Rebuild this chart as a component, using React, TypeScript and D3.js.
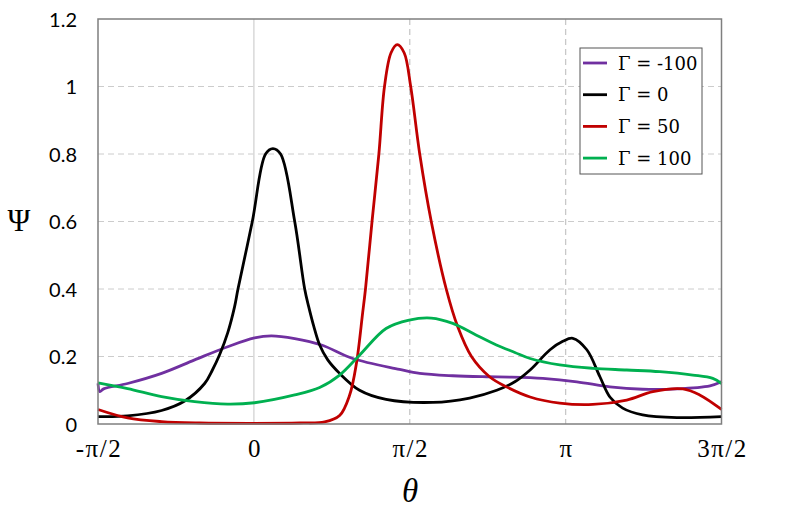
import * as d3 from "d3";

// theta in units of pi, psi values
const thetaNeg100 = [-0.5, -0.494, -0.482, -0.405, -0.296, -0.19, -0.084, 0.002, 0.056, 0.131, 0.217, 0.317, 0.467, 0.532, 0.638, 0.747, 0.821, 0.927, 1.036, 1.142, 1.247, 1.357, 1.463, 1.5];
const psiNeg100 = [0.12, 0.096, 0.104, 0.12, 0.15, 0.19, 0.229, 0.255, 0.261, 0.253, 0.234, 0.194, 0.162, 0.15, 0.143, 0.14, 0.139, 0.135, 0.125, 0.11, 0.103, 0.104, 0.113, 0.125];

const theta0 = [-0.5, -0.405, -0.296, -0.222, -0.158, -0.133, -0.11, -0.084, -0.062, -0.051, -0.005, 0.0375, 0.061, 0.0857, 0.131, 0.163, 0.176, 0.192, 0.211, 0.237, 0.275, 0.339, 0.424, 0.574, 0.692, 0.779, 0.837, 0.886, 0.95, 0.991, 1.023, 1.068, 1.11, 1.142, 1.183, 1.247, 1.357, 1.5];
const psi0 = [0.022, 0.024, 0.04, 0.068, 0.12, 0.16, 0.205, 0.27, 0.347, 0.4, 0.6, 0.8, 0.816, 0.8, 0.6, 0.4, 0.347, 0.29, 0.234, 0.19, 0.15, 0.1, 0.073, 0.064, 0.077, 0.1, 0.125, 0.16, 0.22, 0.245, 0.254, 0.22, 0.14, 0.08, 0.047, 0.027, 0.019, 0.022];

const theta50 = [-0.5, -0.405, -0.296, -0.174, -0.014, 0.147, 0.227, 0.275, 0.307, 0.329, 0.349, 0.358, 0.379, 0.401, 0.419, 0.44, 0.46, 0.482, 0.503, 0.532, 0.569, 0.617, 0.654, 0.698, 0.756, 0.81, 0.886, 0.981, 1.087, 1.196, 1.28, 1.376, 1.43, 1.5];
const psi50 = [0.043, 0.018, 0.007, 0.003, 0.002, 0.003, 0.006, 0.025, 0.085, 0.18, 0.33, 0.4, 0.6, 0.8, 1.0, 1.1, 1.124, 1.1, 1.0, 0.8, 0.6, 0.4, 0.288, 0.2, 0.14, 0.11, 0.08, 0.062, 0.058, 0.071, 0.096, 0.104, 0.086, 0.043];

const theta100 = [-0.5, -0.405, -0.296, -0.19, -0.084, 0.002, 0.131, 0.211, 0.275, 0.339, 0.424, 0.498, 0.569, 0.638, 0.714, 0.778, 0.837, 0.886, 0.981, 1.087, 1.196, 1.302, 1.408, 1.472, 1.5];
const psi100 = [0.122, 0.105, 0.081, 0.066, 0.059, 0.063, 0.086, 0.108, 0.145, 0.204, 0.283, 0.308, 0.314, 0.298, 0.263, 0.234, 0.212, 0.194, 0.175, 0.165, 0.16, 0.155, 0.145, 0.135, 0.12];

const seriesNames = ["Γ = -100", "Γ = 0", "Γ = 50", "Γ = 100"];
const seriesColors = ["#7030A0", "#000000", "#C00000", "#00B050"];
const seriesTheta = [thetaNeg100, theta0, theta50, theta100];
const seriesPsi = [psiNeg100, psi0, psi50, psi100];

const xTicks = [-0.5, 0, 0.5, 1, 1.5];
const xTickLabels = ["-π/2", "0", "π/2", "π", "3π/2"];
const yTicks = [0, 0.2, 0.4, 0.6, 0.8, 1, 1.2];
const yTickLabels = ["0", "0.2", "0.4", "0.6", "0.8", "1", "1.2"];

const W = 789;
const H = 515;
const plot = { left: 98, right: 721.5, top: 19, bottom: 424 };

export default function App() {
  const x = d3.scaleLinear().domain([-0.5, 1.5]).range([plot.left, plot.right]);
  const y = d3.scaleLinear().domain([0, 1.2]).range([plot.bottom, plot.top]);

  const line = d3
    .line<[number, number]>()
    .x((d) => x(d[0]))
    .y((d) => y(d[1]))
    .curve(d3.curveCatmullRom.alpha(0.5));

  const legendX = 580;
  const legendY = 48;

  return (
    <svg width={W} height={H} style={{ position: "absolute", left: 0, top: 0, background: "#fff" }}>
      {/* horizontal grid */}
      {yTicks.slice(1, -1).map((t) => (
        <line key={"h" + t} x1={plot.left} x2={plot.right} y1={y(t)} y2={y(t)}
          stroke="#cccccc" strokeWidth={1} strokeDasharray="6,4" />
      ))}
      {/* vertical grid */}
      {xTicks.slice(1, -1).map((t) => (
        <line key={"v" + t} x1={x(t)} x2={x(t)} y1={plot.top} y2={plot.bottom}
          stroke={t === 0 ? "#d9d9d9" : "#c8c8c8"} strokeWidth={t === 0 ? 1.5 : 1.3}
          strokeDasharray={t === 0 ? undefined : "6,4"} />
      ))}

      {/* curves */}
      {seriesNames.map((name, i) => {
        const pts = seriesTheta[i].map((t, j) => [t, seriesPsi[i][j]] as [number, number]);
        return (
          <path key={name} d={line(pts) || ""} fill="none" stroke={seriesColors[i]}
            strokeWidth={2.8} strokeLinejoin="round" />
        );
      })}

      {/* frame */}
      <rect x={plot.left} y={plot.top} width={plot.right - plot.left} height={plot.bottom - plot.top}
        fill="none" stroke="#7f7f7f" strokeWidth={1.5} />

      {/* y ticks */}
      {yTicks.map((t, i) => (
        <text key={"yt" + t} x={77} y={y(t) + 7.5} textAnchor="end" fontFamily="Lato, 'Noto Sans', sans-serif"
          fontSize={20} fill="#000">{yTickLabels[i]}</text>
      ))}
      {/* x ticks */}
      {xTicks.map((t, i) => (
        <text key={"xt" + t} x={x(t) + 1} y={457} textAnchor="middle" fontFamily="'Liberation Serif', serif"
          fontSize={25} letterSpacing={1.5} fill="#000">{xTickLabels[i]}</text>
      ))}

      {/* axis titles */}
      <text x={19} y={231} textAnchor="middle" fontFamily="'Liberation Serif', serif" fontSize={31} fill="#000">Ψ</text>
      <text x={410} y={502} textAnchor="middle" fontFamily="'Liberation Serif', serif" fontStyle="italic"
        fontSize={33} fill="#000">θ</text>

      {/* legend */}
      <rect x={legendX} y={legendY} width={122} height={126} fill="#fff" stroke="#555" strokeWidth={1} />
      {seriesNames.map((name, i) => {
        const cy = 63 + i * 31.7;
        return (
          <g key={"lg" + name}>
            <line x1={583} x2={607} y1={cy} y2={cy} stroke={seriesColors[i]} strokeWidth={2.8} />
            <text x={618} y={cy + 6.5} fontFamily="'DejaVu Serif', serif" fontSize={18} fill="#000">{name}</text>
          </g>
        );
      })}
    </svg>
  );
}
